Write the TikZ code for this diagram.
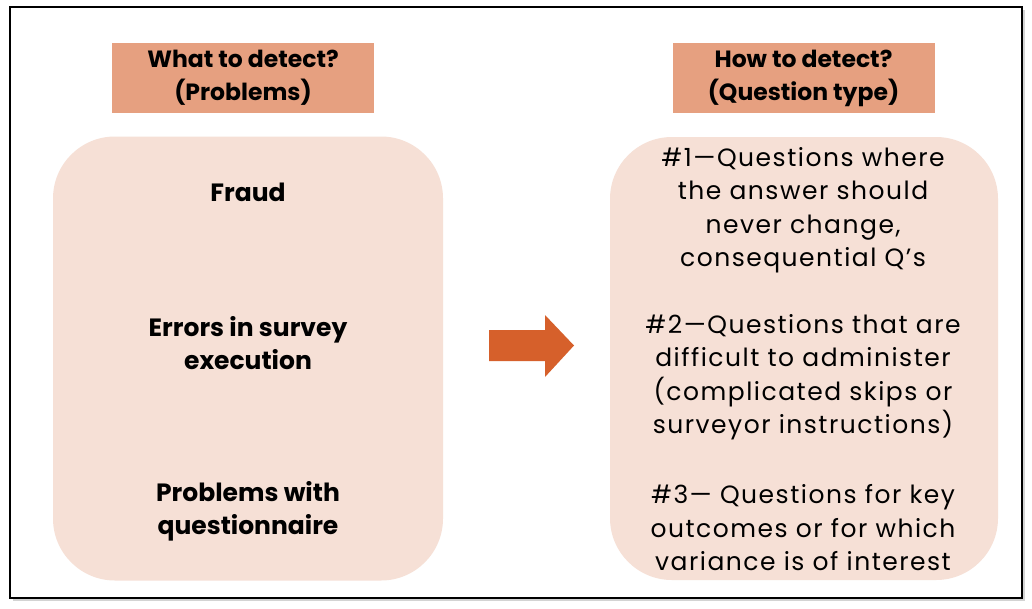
\documentclass[tikz,border=0pt]{standalone}
\usepackage{fontspec}
\setmainfont{Poppins}
\newfontfamily\qfont[LetterSpace=6]{Poppins}
\usetikzlibrary{shadows}
\definecolor{headfill}{RGB}{230,160,128}
\definecolor{panelfill}{RGB}{246,224,214}
\definecolor{arrowfill}{RGB}{214,96,43}

\begin{document}
\begin{tikzpicture}[x=1pt, y=-1pt,
  header/.style = {fill=headfill, minimum width=262pt, minimum height=70pt,
    inner sep=0pt, align=center, font=\bfseries\fontsize{23.5}{33}\selectfont},
  panel/.style = {fill=panelfill, rounded corners=62pt,
    minimum width=390pt, minimum height=444pt, inner sep=0pt},
  problem/.style = {align=center, font=\bfseries\fontsize{25}{33}\selectfont},
  qtype/.style = {align=center, font=\qfont\fontsize{25}{33.5}\selectfont}]
  \useasboundingbox (0,0) rectangle (1032,608);
  \draw[line width=2.5pt, fill=white,
    drop shadow={shadow xshift=3pt, shadow yshift=-3pt, opacity=0.35}]
    (10,7) rectangle (1022,598);
  % headers
  \node[header] (what) at (243,78) {What to detect?\\(Problems)};
  \node[header] (how) at (803.5,78) {How to detect?\\(Question type)};
  % panels
  \node[panel] (left) at (248,358.5) {};
  \node[panel, minimum width=388pt, minimum height=443pt] (right) at (804,358.5) {};
  \node[problem] (fraud) at (248,192) {Fraud};
  \node[problem] (errors) at (248,343.5) {Errors in survey\\execution};
  \node[problem] (quest) at (248,511) {Problems with\\questionnaire};
  \node[qtype] (q1) at (803,210) {\#1—Questions where\\the answer should\\never change,\\consequential Q’s};
  \node[qtype] (q2) at (803,377) {\#2—Questions that are\\difficult to administer\\(complicated skips or\\surveyor instructions)};
  \node[qtype] (q3) at (803,528) {\#3— Questions for key\\outcomes or for which\\variance is of interest};
  % arrow
  \fill[arrowfill] (489,330) -- (545,330) -- (545,315) -- (574,345.5)
    -- (545,377) -- (545,361) -- (489,361) -- cycle;
\end{tikzpicture}
\end{document}
